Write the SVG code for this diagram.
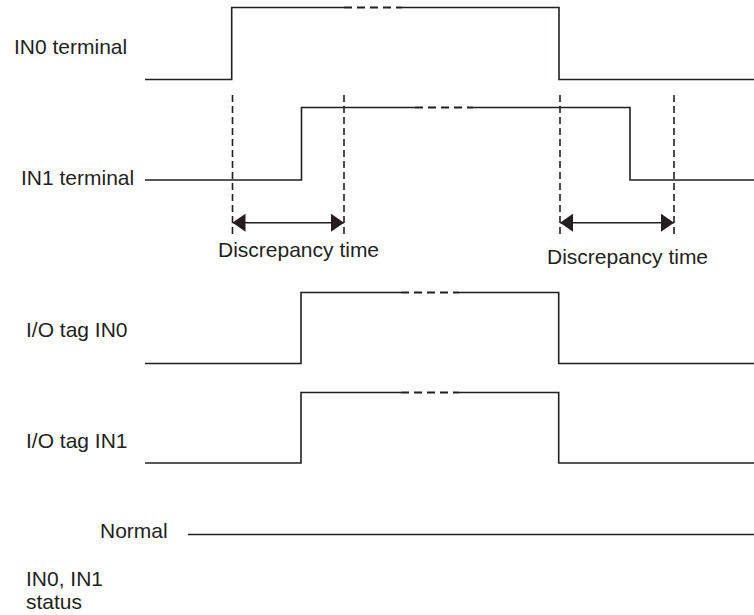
<svg xmlns="http://www.w3.org/2000/svg" width="754" height="615" viewBox="0 0 754 615">
<style>
text{font-family:"Liberation Sans",Arial,sans-serif;font-size:21px;fill:#231f20}
.w{fill:none;stroke:#231f20;stroke-width:1.6;stroke-linejoin:miter}
.hd{fill:none;stroke:#231f20;stroke-width:2.2;stroke-dasharray:8,5}
.vd{fill:none;stroke:#231f20;stroke-width:1.6;stroke-dasharray:7,4}
.ar{fill:none;stroke:#231f20;stroke-width:1.6}
</style>
<defs>
<marker id="ah" viewBox="0 0 13 18" refX="13" refY="9" markerWidth="13" markerHeight="18" markerUnits="userSpaceOnUse" orient="auto-start-reverse">
<path d="M0,0 L13,9 L0,18 Z" fill="#231f20"/>
</marker>
</defs>
<rect width="754" height="615" fill="#fff"/>
<g id="in0-terminal">
<text x="14" y="54">IN0 terminal</text>
<path class="w" d="M145,79.5 H231.7 V7.5 H344"/>
<path class="hd" d="M344,7.5 H402"/>
<path class="w" d="M402,7.5 H559 V79.5 H754"/>
</g>
<g id="in1-terminal">
<text x="21" y="185">IN1 terminal</text>
<path class="w" d="M145,180 H301.5 V107.5 H415"/>
<path class="hd" d="M415,107.5 H473"/>
<path class="w" d="M473,107.5 H630 V180 H754"/>
</g>
<g id="io-tag-in0">
<text x="26" y="337">I/O tag IN0</text>
<path class="w" d="M145,363.5 H301 V292.5 H401"/>
<path class="hd" d="M401,292.5 H459"/>
<path class="w" d="M459,292.5 H558.7 V363.5 H754"/>
</g>
<g id="io-tag-in1">
<text x="26" y="448">I/O tag IN1</text>
<path class="w" d="M145,463 H301 V392.5 H401"/>
<path class="hd" d="M401,392.5 H459"/>
<path class="w" d="M459,392.5 H558.7 V463 H754"/>
</g>
<g id="status">
<text x="100" y="538">Normal</text>
<path class="w" d="M188,534.5 H754"/>
<text x="26" y="586">IN0, IN1</text>
<text x="26" y="609">status</text>
</g>
<g id="connectors">
<path class="vd" d="M232.5,95 V236"/>
<path class="vd" d="M344,95 V236"/>
<path class="vd" d="M560,95 V236"/>
<path class="vd" d="M674,95 V236"/>
<path class="ar" d="M232.5,222.7 H344" marker-start="url(#ah)" marker-end="url(#ah)"/>
<path class="ar" d="M560,222.7 H674" marker-start="url(#ah)" marker-end="url(#ah)"/>
<text x="218" y="257">Discrepancy time</text>
<text x="547" y="263.5">Discrepancy time</text>
</g>
</svg>
